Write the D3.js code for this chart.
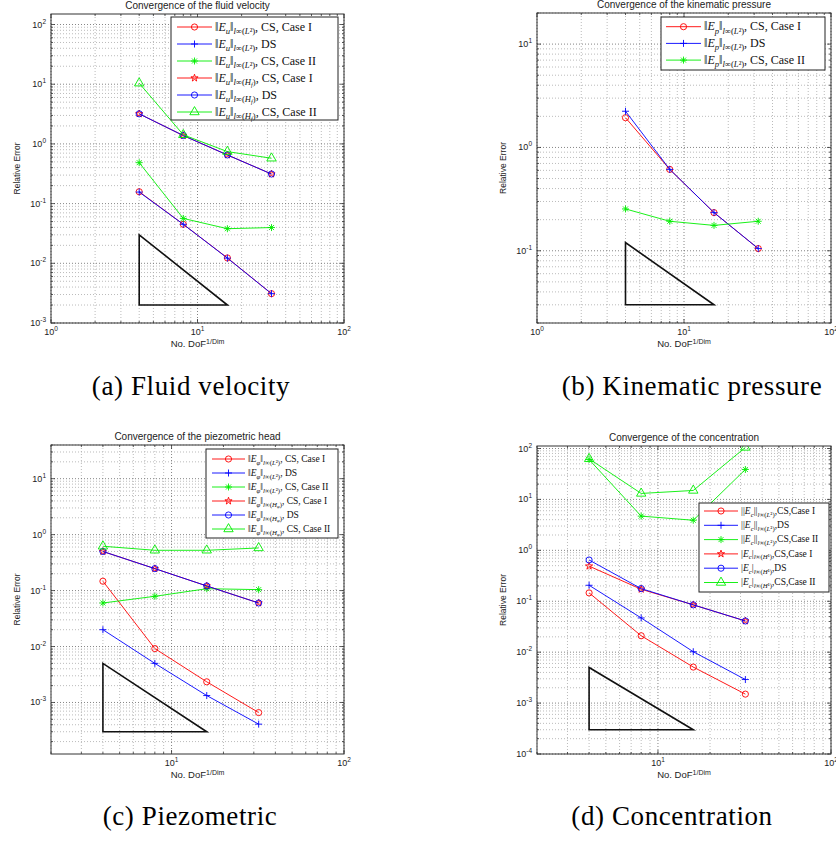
<!DOCTYPE html>
<html>
<head>
<meta charset="utf-8">
<script src="https://cdn.jsdelivr.net/npm/d3@7"></script>
<style>
  body { margin: 0; background: #fff; }
  svg text { font-family: "Liberation Sans", Arial, sans-serif; }
</style>
</head>
<body>
<svg id="fig" width="836" height="842"></svg>
<script>
// degrees of freedom per dimension
const dofs = [4, 8, 16, 32];

// (a) fluid velocity
const velL2CaseI = [0.158, 0.045, 0.0123, 0.0031];
const velL2DS = [0.156, 0.045, 0.0122, 0.0031];
const velL2CaseII = [0.485, 0.0564, 0.038, 0.0397];
const velHfCaseI = [3.19, 1.38, 0.653, 0.313];
const velHfDS = [3.19, 1.38, 0.653, 0.313];
const velHfCaseII = [10.4, 1.42, 0.743, 0.575];
const velLabels = [
    '‖E_u‖_{l∞(L²)}, CS, Case I',
    '‖E_u‖_{l∞(L²)}, DS',
    '‖E_u‖_{l∞(L²)}, CS, Case II',
    '‖E_u‖_{l∞(H_f)}, CS, Case I',
    '‖E_u‖_{l∞(H_f)}, DS',
    '‖E_u‖_{l∞(H_f)}, CS, Case II'
];
const velSlope = [[4, 0.03], [4, 0.002], [16, 0.002]];

// (b) kinematic pressure
const presCaseI = [1.94, 0.613, 0.234, 0.105];
const presDS = [2.24, 0.613, 0.234, 0.105];
const presCaseII = [0.254, 0.193, 0.176, 0.193];
const presLabels = [
    '‖E_p‖_{l∞(L²)}, CS, Case I',
    '‖E_p‖_{l∞(L²)}, DS',
    '‖E_p‖_{l∞(L²)}, CS, Case II'
];
const presSlope = [[4, 0.12], [4, 0.03], [16, 0.03]];

// (c) piezometric head
const headL2CaseI = [0.147, 0.0092, 0.00234, 0.00066];
const headL2DS = [0.020, 0.005, 0.00133, 0.00041];
const headL2CaseII = [0.060, 0.079, 0.108, 0.104];
const headHpCaseI = [0.50, 0.247, 0.121, 0.060];
const headHpDS = [0.50, 0.247, 0.121, 0.060];
const headHpCaseII = [0.62, 0.525, 0.525, 0.578];
const headLabels = [
    '‖E_φ‖_{l∞(L²)}, CS, Case I',
    '‖E_φ‖_{l∞(L²)}, DS',
    '‖E_φ‖_{l∞(L²)}, CS, Case II',
    '‖E_φ‖_{l∞(H_φ)}, CS, Case I',
    '‖E_φ‖_{l∞(H_φ)}, DS',
    '‖E_φ‖_{l∞(H_φ)}, CS, Case II'
];
const headSlope = [[4, 0.005], [4, 0.0003], [16, 0.0003]];

// (d) concentration
const concL2CaseI = [0.146, 0.021, 0.0051, 0.0015];
const concL2DS = [0.206, 0.047, 0.0102, 0.0029];
const concL2CaseII = [60.8, 4.7, 3.9, 38.7];
const concH1CaseI = [0.49, 0.172, 0.085, 0.041];
const concH1DS = [0.646, 0.177, 0.085, 0.041];
const concH1CaseII = [62.7, 13.1, 15.0, 105];
const concLabels = [
    '||E_c||_{l∞(L²)},CS,Case I',
    '||E_c||_{l∞(L²)},DS',
    '||E_c||_{l∞(L²)},CS,Case II',
    '|E_c|_{l∞(H¹)},CS,Case I',
    '|E_c|_{l∞(H¹)},DS',
    '|E_c|_{l∞(H¹)},CS,Case II'
];
const concSlope = [[4, 0.005], [4, 0.0003], [16, 0.0003]];

const captions = ['(a) Fluid velocity', '(b) Kinematic pressure', '(c) Piezometric', '(d) Concentration'];

const RED = '#ff0000', BLUE = '#0000ff', GREEN = '#00ee00';

const panels = [
    {
        left: 51, right: 344, top: 14, bottom: 323,
        xDomain: [1, 100], yDomain: [1e-3, 150],
        title: 'Convergence of the fluid velocity',
        yLabelX: 17,
        slope: velSlope,
        series: [
            { values: velL2CaseI, color: RED, marker: 'o' },
            { values: velL2DS, color: BLUE, marker: '+' },
            { values: velL2CaseII, color: GREEN, marker: '*' },
            { values: velHfCaseI, color: RED, marker: 'p' },
            { values: velHfDS, color: BLUE, marker: 'o' },
            { values: velHfCaseII, color: GREEN, marker: '^' }
        ],
        labels: velLabels,
        legend: { x0: 171, y0: 17, x1: 338, y1: 120, first: 27, step: 17, lx0: 177, lx1: 212, tx: 215, size: 12 },
        caption: { x: 191, y: 395 }
    },
    {
        left: 537, right: 831, top: 13, bottom: 323,
        xDomain: [1, 100], yDomain: [0.02, 20],
        title: 'Convergence of the kinematic pressure',
        yLabelX: 503,
        slope: presSlope,
        series: [
            { values: presCaseI, color: RED, marker: 'o' },
            { values: presDS, color: BLUE, marker: '+' },
            { values: presCaseII, color: GREEN, marker: '*' }
        ],
        labels: presLabels,
        legend: { x0: 661, y0: 17, x1: 825, y1: 70, first: 26.7, step: 16.7, lx0: 666, lx1: 701, tx: 704, size: 12 },
        caption: { x: 692, y: 395 }
    },
    {
        left: 51, right: 344, top: 445, bottom: 754,
        xDomain: [2, 100], yDomain: [1.2e-4, 40],
        title: 'Convergence of the piezometric head',
        yLabelX: 17,
        slope: headSlope,
        series: [
            { values: headL2CaseI, color: RED, marker: 'o' },
            { values: headL2DS, color: BLUE, marker: '+' },
            { values: headL2CaseII, color: GREEN, marker: '*' },
            { values: headHpCaseI, color: RED, marker: 'p' },
            { values: headHpDS, color: BLUE, marker: 'o' },
            { values: headHpCaseII, color: GREEN, marker: '^' }
        ],
        labels: headLabels,
        legend: { x0: 206, y0: 449, x1: 338, y1: 538, first: 459, step: 14, lx0: 212, lx1: 245, tx: 248, size: 9.5 },
        caption: { x: 190, y: 825 }
    },
    {
        left: 537, right: 831, top: 446, bottom: 754,
        xDomain: [2, 100], yDomain: [1e-4, 112],
        title: 'Convergence of the concentration',
        yLabelX: 503,
        slope: concSlope,
        series: [
            { values: concL2CaseI, color: RED, marker: 'o' },
            { values: concL2DS, color: BLUE, marker: '+' },
            { values: concL2CaseII, color: GREEN, marker: '*' },
            { values: concH1CaseI, color: RED, marker: 'p' },
            { values: concH1DS, color: BLUE, marker: 'o' },
            { values: concH1CaseII, color: GREEN, marker: '^' }
        ],
        labels: concLabels,
        legend: { x0: 699, y0: 503, x1: 829, y1: 592, first: 511, step: 14.3, lx0: 704, lx1: 738, tx: 741, size: 9.5 },
        caption: { x: 672, y: 825 }
    }
];

const svg = d3.select('#fig');

function markerPath(type) {
    if (type === 'o') return d3.symbol().type(d3.symbolCircle).size(30)();
    if (type === 'p') return d3.symbol().type(d3.symbolStar).size(16)();
    if (type === '^') return d3.symbol().type(d3.symbolTriangle).size(38)();
    const s = 3.5, k = 2.5;
    if (type === '+') return `M${-s},0H${s}M0,${-s}V${s}`;
    // asterisk
    return `M${-s},0H${s}M0,${-s}V${s}M${-k},${-k}L${k},${k}M${-k},${k}L${k},${-k}`;
}

function drawMarker(g, type, color, cx, cy) {
    g.append('path')
        .attr('d', markerPath(type))
        .attr('transform', `translate(${cx},${cy})`)
        .attr('fill', 'none')
        .attr('stroke', color)
        .attr('stroke-width', 0.9);
}

// tiny TeX-ish renderer: math before the first comma, '_' starts a subscript
function renderLabel(text, str, size) {
    const comma = str.indexOf(',');
    const math = str.slice(0, comma), rest = str.slice(comma);
    const runs = [];
    function push(t, level, italic) {
        const last = runs[runs.length - 1];
        if (last && last.level === level && last.italic === italic) last.t += t;
        else runs.push({ t, level, italic });
    }
    let level = 0;
    const stack = [];
    for (let i = 0; i < math.length; i++) {
        const ch = math[i];
        if (ch === '_') {
            if (math[i + 1] === '{') {
                stack.push(level);
                level += 1;
                i += 1;
            } else {
                const c = math[i + 1];
                push(c, level + 1, /[A-Za-zφ]/.test(c));
                i += 1;
            }
        } else if (ch === '}') {
            level = stack.pop();
        } else {
            push(ch, level, /[A-Za-zφ]/.test(ch));
        }
    }
    push(rest, 0, false);

    const ratio = 0.72;
    const offsetOf = lv => {
        let o = 0, s = size;
        for (let k = 0; k < lv; k++) { o += s * 0.28; s *= ratio; }
        return o;
    };
    let cur = 0;
    runs.forEach(r => {
        const off = offsetOf(r.level);
        text.append('tspan')
            .attr('dy', off - cur)
            .attr('font-size', size * Math.pow(ratio, r.level))
            .attr('font-style', r.italic ? 'italic' : 'normal')
            .text(r.t);
        cur = off;
    });
}

function drawPanel(p, idx) {
    const x = d3.scaleLog().domain(p.xDomain).range([p.left, p.right]);
    const y = d3.scaleLog().domain(p.yDomain).range([p.bottom, p.top]);
    const g = svg.append('g');
    const isMajor = v => Math.abs(Math.log10(v) - Math.round(Math.log10(v))) < 1e-9;

    const xt = x.ticks(), yt = y.ticks();

    // grid
    const grid = g.append('g').attr('fill', 'none').attr('stroke-width', 0.8);
    xt.forEach(v => {
        grid.append('line')
            .attr('x1', x(v)).attr('x2', x(v))
            .attr('y1', p.top).attr('y2', p.bottom)
            .attr('stroke', isMajor(v) ? '#666' : '#aaa')
            .attr('stroke-dasharray', '1,2');
    });
    yt.forEach(v => {
        grid.append('line')
            .attr('x1', p.left).attr('x2', p.right)
            .attr('y1', y(v)).attr('y2', y(v))
            .attr('stroke', isMajor(v) ? '#666' : '#aaa')
            .attr('stroke-dasharray', '1,2');
    });

    // ticks on all four sides
    const ticks = g.append('g').attr('stroke', '#333').attr('stroke-width', 0.8);
    xt.forEach(v => {
        const len = isMajor(v) ? 4 : 2;
        ticks.append('line').attr('x1', x(v)).attr('x2', x(v)).attr('y1', p.bottom).attr('y2', p.bottom - len);
        ticks.append('line').attr('x1', x(v)).attr('x2', x(v)).attr('y1', p.top).attr('y2', p.top + len);
    });
    yt.forEach(v => {
        const len = isMajor(v) ? 4 : 2;
        ticks.append('line').attr('x1', p.left).attr('x2', p.left + len).attr('y1', y(v)).attr('y2', y(v));
        ticks.append('line').attr('x1', p.right).attr('x2', p.right - len).attr('y1', y(v)).attr('y2', y(v));
    });

    // tick labels
    xt.filter(isMajor).forEach(v => {
        const t = g.append('text')
            .attr('x', x(v)).attr('y', p.bottom + 12)
            .attr('text-anchor', 'middle')
            .attr('font-size', 9).attr('fill', '#222');
        t.append('tspan').text('10');
        t.append('tspan').attr('dy', -4).attr('font-size', 6.5).text(Math.round(Math.log10(v)));
    });
    yt.filter(isMajor).forEach(v => {
        const t = g.append('text')
            .attr('x', p.left - 5).attr('y', y(v) + 3)
            .attr('text-anchor', 'end')
            .attr('font-size', 9).attr('fill', '#222');
        t.append('tspan').text('10');
        t.append('tspan').attr('dy', -4).attr('font-size', 6.5).text(Math.round(Math.log10(v)));
    });

    // axis labels and title
    const xl = g.append('text')
        .attr('x', (p.left + p.right) / 2).attr('y', p.bottom + 24)
        .attr('text-anchor', 'middle').attr('font-size', 9.5).attr('fill', '#222');
    xl.append('tspan').text('No. DoF');
    xl.append('tspan').attr('dy', -3.5).attr('font-size', 7).text('1/Dim');

    g.append('text')
        .attr('transform', `translate(${p.yLabelX + 3},${(p.top + p.bottom) / 2}) rotate(-90)`)
        .attr('text-anchor', 'middle').attr('font-size', 8.5).attr('fill', '#222')
        .text('Relative Error');

    g.append('text')
        .attr('x', (p.left + p.right) / 2).attr('y', p.top - 5)
        .attr('text-anchor', 'middle').attr('font-size', 10).attr('fill', '#222')
        .text(p.title);

    // clipped plot area
    const clipId = `clip-${idx}`;
    g.append('clipPath').attr('id', clipId)
        .append('rect')
        .attr('x', p.left).attr('y', p.top)
        .attr('width', p.right - p.left).attr('height', p.bottom - p.top);
    const plot = g.append('g').attr('clip-path', `url(#${clipId})`);

    const line = d3.line().x(d => x(d[0])).y(d => y(d[1]));
    p.series.forEach(s => {
        const pts = dofs.map((d, i) => [d, s.values[i]]);
        plot.append('path')
            .attr('d', line(pts))
            .attr('fill', 'none')
            .attr('stroke', s.color)
            .attr('stroke-width', 0.9);
        pts.forEach(pt => drawMarker(plot, s.marker, s.color, x(pt[0]), y(pt[1])));
    });

    // convergence-rate triangle
    plot.append('path')
        .attr('d', line(p.slope) + 'Z')
        .attr('fill', 'none')
        .attr('stroke', '#111')
        .attr('stroke-width', 1.6);

    // box
    g.append('rect')
        .attr('x', p.left).attr('y', p.top)
        .attr('width', p.right - p.left).attr('height', p.bottom - p.top)
        .attr('fill', 'none').attr('stroke', '#333').attr('stroke-width', 1);

    // legend
    const L = p.legend;
    const lg = g.append('g');
    lg.append('rect')
        .attr('x', L.x0).attr('y', L.y0)
        .attr('width', L.x1 - L.x0).attr('height', L.y1 - L.y0)
        .attr('fill', '#fff').attr('stroke', '#222').attr('stroke-width', 1);
    p.series.forEach((s, i) => {
        const yy = L.first + i * L.step;
        lg.append('line')
            .attr('x1', L.lx0).attr('x2', L.lx1)
            .attr('y1', yy).attr('y2', yy)
            .attr('stroke', s.color).attr('stroke-width', 0.9);
        drawMarker(lg, s.marker, s.color, (L.lx0 + L.lx1) / 2, yy);
        const t = lg.append('text')
            .attr('x', L.tx).attr('y', yy + L.size * 0.3)
            .attr('fill', '#111')
            .style('font-family', '"Liberation Serif", "Times New Roman", serif');
        renderLabel(t, p.labels[i], L.size);
    });

    // caption
    svg.append('text')
        .attr('x', p.caption.x).attr('y', p.caption.y)
        .attr('text-anchor', 'middle')
        .attr('font-size', 27)
        .attr('letter-spacing', 0.6)
        .attr('fill', '#000')
        .style('font-family', '"Liberation Serif", "Times New Roman", serif')
        .text(captions[idx]);
}

panels.forEach(drawPanel);
</script>
</body>
</html>
